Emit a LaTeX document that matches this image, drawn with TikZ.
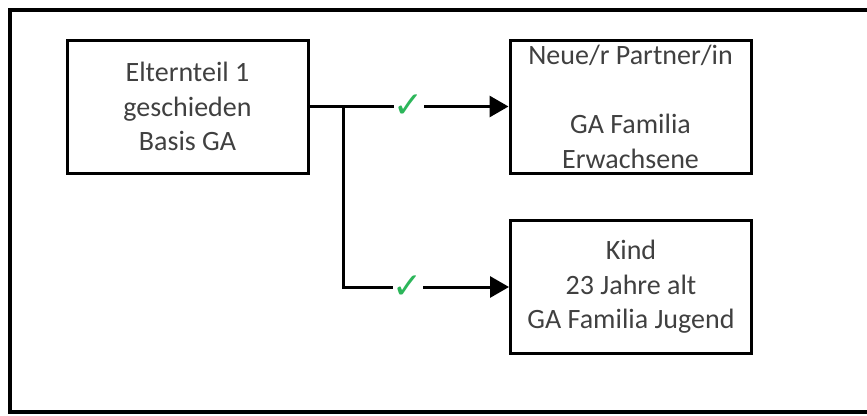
\documentclass[tikz,border=0pt]{standalone}
\usepackage{fontspec}
\setmainfont{Carlito}
\newfontfamily\symfont{DejaVu Sans}
\usetikzlibrary{arrows.meta}
\definecolor{txt}{HTML}{404040}
\definecolor{chk}{HTML}{2CB65A}
\begin{document}
\begin{tikzpicture}[x=1pt,y=-1pt,
  box/.style={draw=black, line width=3pt, minimum width=241pt, minimum height=133pt,
    inner sep=0pt, align=center, text=txt, font=\fontsize{28}{34.5}\selectfont},
  conn/.style={line width=3pt},
  arr/.style={conn, -{Triangle[length=19pt,width=21pt]}},
  chkmark/.style={fill=white, inner sep=0pt, minimum width=23pt, minimum height=40pt,
    text=chk, font=\symfont\fontsize{36}{36}\selectfont}]
\useasboundingbox (0,0) rectangle (867,415);
\draw[line width=4pt] (867,10) -- (10,10) -- (10,412) -- (867,412);
\node[box] (p1) at (187.5,106.5) {Elternteil 1\\geschieden\\Basis GA};
\node[box] (p2) at (630.5,106.5) {Neue/r Partner/in\\[35pt]GA Familia\\Erwachsene};
\node[box] (p3) at (631,287) {Kind\\23 Jahre alt\\GA Familia Jugend};
\coordinate (j) at (343,106.5);
\draw[arr] (p1.east) -- node[chkmark] {✓} (p2.west);
\draw[arr] (j) |- node[chkmark, pos=0.696] {✓} (p3.west);
\end{tikzpicture}
\end{document}
